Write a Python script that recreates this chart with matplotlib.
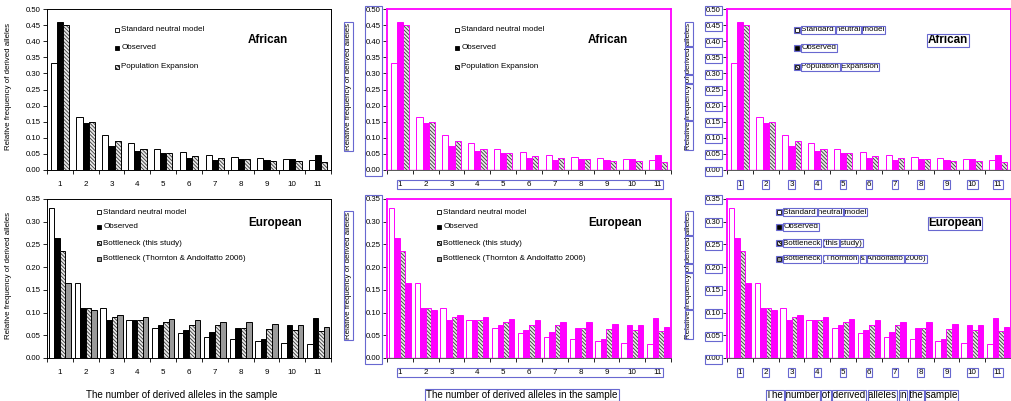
import numpy as np
import matplotlib
matplotlib.use("Agg")
import matplotlib.pyplot as plt
from matplotlib.patches import Rectangle
from matplotlib.transforms import IdentityTransform

plt.rcParams['font.family'] = ['Liberation Sans', 'DejaVu Sans']
plt.rcParams['hatch.linewidth'] = 0.6

# site frequency spectrum, derived allele classes 1..11
classes = list(range(1, 12))
neutral = [0.331, 0.166, 0.110, 0.083, 0.066, 0.055, 0.047, 0.041, 0.037, 0.033, 0.030]

afr_observed = [0.460, 0.146, 0.073, 0.058, 0.052, 0.036, 0.030, 0.034, 0.030, 0.035, 0.046]
afr_expansion = [0.449, 0.148, 0.089, 0.066, 0.053, 0.045, 0.038, 0.033, 0.028, 0.027, 0.024]

eur_observed = [0.264, 0.111, 0.083, 0.083, 0.072, 0.061, 0.057, 0.067, 0.041, 0.073, 0.087]
eur_bottleneck = [0.235, 0.111, 0.090, 0.083, 0.080, 0.073, 0.072, 0.067, 0.064, 0.062, 0.059]
eur_thornton = [0.166, 0.105, 0.095, 0.091, 0.086, 0.083, 0.080, 0.079, 0.075, 0.073, 0.069]

afr_labels = ["Standard neutral model", "Observed", "Population Expansion"]
eur_labels = ["Standard neutral model", "Observed", "Bottleneck (this study)",
              "Bottleneck (Thornton & Andolfatto 2006)"]

ylabel = "Relative frequency of derived alleles"
xlabel = "The number of derived alleles in the sample"

MAGENTA = '#ff00ff'
BOX = '#6868d0'
HATCH = '\\' * 9

W, H = 1011, 401
fig = plt.figure(figsize=(W / 100, H / 100), dpi=100)


def px_axes(left, top, width, height):
    return fig.add_axes([left / W, (H - top - height) / H, width / W, height / H])


def draw_bars(ax, series, kinds, mode):
    n = len(series)
    width = 0.72 / n if n == 3 else 0.86 / n
    x = np.array(classes, dtype=float)
    edge = 'black' if mode == 'plain' else MAGENTA
    for i, (vals, kind) in enumerate(zip(series, kinds)):
        pos = x + (i - (n - 1) / 2) * width
        if kind == 'open':
            ax.bar(pos, vals, width, color='white', edgecolor=edge, lw=0.7)
        elif kind == 'solid':
            fc = 'black' if mode == 'plain' else MAGENTA
            ax.bar(pos, vals, width, color=fc, edgecolor=edge, lw=0.7)
        elif kind == 'hatch':
            ax.bar(pos, vals, width, color='#e8e8e8', edgecolor='#3a3a3a', hatch=HATCH, lw=0)
            ax.bar(pos, vals, width, fill=False, edgecolor=edge, lw=0.7)
        else:
            fc = '#9a9a9a' if mode == 'plain' else MAGENTA
            ax.bar(pos, vals, width, color=fc, edgecolor=edge, lw=0.7)


def swatch(ax, x, y, kind, axw, axh):
    s = 4.5
    fc = {'open': 'white', 'solid': 'black', 'hatch': '#e8e8e8', 'grey': '#9a9a9a'}[kind]
    r = Rectangle((x, y - s / 2 / axh), s / axw, s / axh, transform=ax.transAxes,
                  facecolor=fc, edgecolor='black', lw=0.6,
                  hatch=HATCH if kind == 'hatch' else None, clip_on=False)
    ax.add_patch(r)
    return r


def panel(ax, series, kinds, labels, title, ymax, axw, axh, leg_x, leg_rows, title_xy,
          mode, show_xlabel):
    draw_bars(ax, series, kinds, mode)
    ax.set_xlim(0.5, 11.5)
    ax.set_ylim(0, ymax)
    ax.set_yticks(np.arange(0, ymax + 0.001, 0.05))
    ax.set_yticklabels([f"{v:.2f}" for v in np.arange(0, ymax + 0.001, 0.05)])
    ax.set_xticks(classes)
    ax.set_xticks(np.arange(0.5, 12, 1), minor=True)
    ax.tick_params(axis='x', which='major', length=0, pad=8, labelsize=5.8)
    ax.tick_params(axis='x', which='minor', length=3, width=0.6, direction='out')
    ax.tick_params(axis='y', length=3, width=0.6, pad=1.5, labelsize=5.6)
    for sp in ax.spines.values():
        sp.set_linewidth(0.7)
    if mode != 'plain':
        for name in ('top', 'right', 'left'):
            ax.spines[name].set_color(MAGENTA)
            ax.spines[name].set_linewidth(1.3)
        ax.spines['bottom'].set_color('#555555')
        ax.axhline(0, color=MAGENTA, lw=1.0)
    ax.set_ylabel(ylabel, fontsize=5.7)
    ax.yaxis.set_label_coords(-35 / axw, 0.52)
    if show_xlabel:
        ax.set_xlabel(xlabel, fontsize=7.1)
        ax.xaxis.set_label_coords(0.475, -32 / axh)

    texts, swatches = [], []
    for lab, kind, y in zip(labels, kinds, leg_rows):
        swatches.append(swatch(ax, leg_x, y, kind, axw, axh))
        texts.append(ax.text(leg_x + 6.5 / axw, y, lab, transform=ax.transAxes,
                             fontsize=5.8, va='center', ha='left'))
    texts.append(ax.text(title_xy[0], title_xy[1], title, transform=ax.transAxes,
                         fontsize=8.4, fontweight='bold', ha='center', va='center'))
    return texts, swatches


afr_kinds = ['open', 'solid', 'hatch']
eur_kinds = ['open', 'solid', 'hatch', 'grey']
modes = ['plain', 'groups', 'words']
panels = []
for col, mode in enumerate(modes):
    ox = col * 340
    top = px_axes(ox + 47, 9, 284, 161)
    t1, s1 = panel(top, [neutral, afr_observed, afr_expansion], afr_kinds, afr_labels,
                   "African", 0.50, 284, 161, 0.239, [0.870, 0.758, 0.640], (0.778, 0.807),
                   mode, False)
    bot = px_axes(ox + 47, 199, 284, 159)
    t2, s2 = panel(bot, [neutral, eur_observed, eur_bottleneck, eur_thornton], eur_kinds,
                   eur_labels, "European", 0.35, 284, 159, 0.176,
                   [0.918, 0.824, 0.723, 0.623], (0.803, 0.849), mode, True)
    panels.append((mode, top, t1, s1))
    panels.append((mode, bot, t2, s2))

# outline boxes around text blocks, computed from the rendered text extents
fig.canvas.draw()
renderer = fig.canvas.get_renderer()


def add_box(x0, y0, x1, y1, pad=1.0):
    fig.patches.append(Rectangle((x0 - pad, y0 - pad), x1 - x0 + 2 * pad, y1 - y0 + 2 * pad,
                                 transform=IdentityTransform(), fill=False,
                                 edgecolor=BOX, lw=0.8))


def box_extent(artist):
    bb = artist.get_window_extent(renderer)
    add_box(bb.x0, bb.y0, bb.x1, bb.y1)


def box_words(text):
    s = text.get_text()
    bb = text.get_window_extent(renderer)
    prop = text.get_fontproperties()
    vertical = text.get_rotation() == 90
    start = 0
    for word in s.split(' '):
        pre = renderer.get_text_width_height_descent(s[:start], prop, ismath=False)[0] if start else 0
        ww = renderer.get_text_width_height_descent(word, prop, ismath=False)[0]
        if vertical:
            add_box(bb.x0, bb.y0 + pre, bb.x1, bb.y0 + pre + ww, pad=0.5)
        else:
            add_box(bb.x0 + pre, bb.y0, bb.x0 + pre + ww, bb.y1, pad=0.5)
        start += len(word) + 1


for mode, ax, texts, swatches in panels:
    if mode == 'plain':
        continue
    yt = [t for t in ax.yaxis.get_majorticklabels() if t.get_text()]
    xt = [t for t in ax.xaxis.get_majorticklabels() if t.get_text()]
    if mode == 'groups':
        for group in (yt, xt):
            bbs = [t.get_window_extent(renderer) for t in group]
            add_box(min(b.x0 for b in bbs), min(b.y0 for b in bbs),
                    max(b.x1 for b in bbs), max(b.y1 for b in bbs))
        box_extent(ax.yaxis.label)
        if ax.xaxis.label.get_text():
            box_extent(ax.xaxis.label)
    else:
        for t in yt + xt:
            box_extent(t)
        box_words(ax.yaxis.label)
        if ax.xaxis.label.get_text():
            box_words(ax.xaxis.label)
        for t in texts:
            box_words(t)
        for s in swatches:
            box_extent(s)

fig.savefig("out.png", dpi=100)
